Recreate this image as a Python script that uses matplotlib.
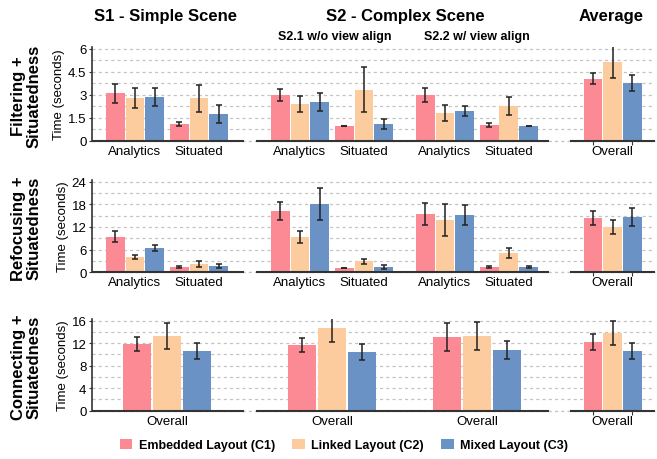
import numpy as np
import matplotlib
matplotlib.use('Agg')
import matplotlib.pyplot as plt

plt.rcParams['font.family'] = ['Liberation Sans', 'DejaVu Sans']

# 数据: 各条件均值和误差 (秒)
conditions = ['Embedded Layout (C1)', 'Linked Layout (C2)', 'Mixed Layout (C3)']
colors = ['#fc8a95', '#fdcc9e', '#6a92c4']

# 行1/行2 顺序: S1-Analytics, S1-Situated, S2.1-Analytics, S2.1-Situated, S2.2-Analytics, S2.2-Situated, Average
cat_labels_6 = ['Analytics', 'Situated', 'Analytics', 'Situated', 'Analytics', 'Situated', 'Overall']
# 行3 顺序: S1, S2.1, S2.2, Average
cat_labels_3 = ['Overall', 'Overall', 'Overall', 'Overall']

filter_c1 = [3.10, 1.09, 2.99, 0.96, 2.99, 1.03, 4.04]
filter_c2 = [2.79, 2.79, 2.40, 3.34, 1.81, 2.27, 5.15]
filter_c3 = [2.86, 1.75, 2.53, 1.09, 1.94, 0.96, 3.78]
filter_c1_err = [0.63, 0.14, 0.40, 0.02, 0.45, 0.12, 0.36]
filter_c2_err = [0.63, 0.88, 0.50, 1.48, 0.53, 0.59, 1.02]
filter_c3_err = [0.62, 0.60, 0.59, 0.30, 0.33, 0.02, 0.55]

refocus_c1 = [9.43, 1.40, 16.24, 1.14, 15.44, 1.40, 14.38]
refocus_c2 = [4.05, 2.20, 9.35, 2.99, 13.85, 5.11, 12.00]
refocus_c3 = [6.44, 1.67, 18.09, 1.40, 15.18, 1.40, 14.65]
refocus_c1_err = [1.50, 0.35, 2.40, 0.10, 3.00, 0.15, 1.95]
refocus_c2_err = [0.53, 0.70, 1.50, 0.66, 4.20, 1.24, 1.90]
refocus_c3_err = [0.90, 0.45, 4.20, 0.49, 2.55, 0.35, 2.30]

connect_c1 = [11.86, 11.68, 13.10, 12.21]
connect_c2 = [13.28, 14.70, 13.28, 13.87]
connect_c3 = [10.61, 10.44, 10.79, 10.61]
connect_c1_err = [1.30, 1.27, 2.48, 1.49]
connect_c2_err = [2.37, 2.43, 2.52, 2.13]
connect_c3_err = [1.42, 1.47, 1.57, 1.42]

row_titles = ['Filtering +\nSituatedness', 'Refocusing +\nSituatedness', 'Connecting +\nSituatedness']
y_major = [[0, 1.5, 3, 4.5, 6], [0, 6, 12, 18, 24], [0, 4, 8, 12, 16]]
y_minor_step = [0.75, 3, 2]

# 布局
W, H = 657, 460
fig = plt.figure(figsize=(W / 100, H / 100), dpi=100)

sec_centers = [3.81, 12.19, 19.55, 26.45]
sub_off = 1.625
xmax = 28.6
base_segments = [(0, 7.72), (8.33, 23.21), (24.28, xmax)]

# 像素位置 (底部0线, 顶部)
row_px = [(141.7, 48, 6.13), (273.3, 181, 24.45), (411.7, 320, 16.3)]

def px_axes(bottom, top):
    return [92 / W, 1 - bottom / H, 563 / W, (bottom - top) / H]

rows = [
    ([filter_c1, filter_c2, filter_c3], [filter_c1_err, filter_c2_err, filter_c3_err], cat_labels_6),
    ([refocus_c1, refocus_c2, refocus_c3], [refocus_c1_err, refocus_c2_err, refocus_c3_err], cat_labels_6),
    ([connect_c1, connect_c2, connect_c3], [connect_c1_err, connect_c2_err, connect_c3_err], cat_labels_3),
]

grid_style = dict(linestyle=(0, (2.5, 2.5)), color='#c4c4c4', linewidth=0.9)

handles = []
for r, (vals, errs, labels) in enumerate(rows):
    bottom, top, ytop = row_px[r]
    ax = fig.add_axes(px_axes(bottom, top))
    if len(labels) == 7:
        centers = []
        for c in sec_centers[:3]:
            centers += [c - sub_off, c + sub_off]
        centers.append(sec_centers[3])
        steps = [1.0] * 7
    else:
        centers = list(sec_centers)
        steps = [1.52, 1.52, 1.52, 1.0]
    centers = np.array(centers)
    steps = np.array(steps)
    for k in range(3):
        x = centers + (k - 1) * steps
        b = ax.bar(x, vals[k], width=steps * 0.95, color=colors[k], yerr=errs[k],
                   error_kw=dict(ecolor='#222222', elinewidth=1.1, capsize=2.5, capthick=1.1),
                   zorder=2, label=conditions[k])
        if r == 0:
            handles.append(b)
    ax.set_xlim(0, xmax)
    ax.set_ylim(0, ytop)
    ax.set_yticks(y_major[r])
    ax.set_yticklabels([('%g' % v) for v in y_major[r]])
    ax.set_yticks(np.arange(0, y_major[r][-1] + 0.01, y_minor_step[r]), minor=True)
    ax.grid(axis='y', which='both', **grid_style)
    ax.set_axisbelow(True)
    # 0线处的虚线 (各部分之间的间隙可见)
    ax.axhline(0, clip_on=False, zorder=1, **grid_style)
    ax.set_xticks(centers)
    ax.set_xticklabels(labels, fontsize=9.5)
    ax.tick_params(axis='x', length=0, pad=3)
    # 平均部分底部的小刻度
    ax.set_xticks(sec_centers[3] + np.array([-1.0, 0, 1.0]), minor=True)
    ax.tick_params(axis='x', which='minor', length=3, width=0.8, color='#333333')
    ax.tick_params(axis='y', which='major', length=2, labelsize=9.5, pad=2, color='#333333')
    ax.tick_params(axis='y', which='minor', length=0)
    for s in ['top', 'right', 'bottom']:
        ax.spines[s].set_visible(False)
    ax.spines['left'].set_color('#333333')
    ax.spines['left'].set_linewidth(1.2)
    for x0, x1 in base_segments:
        ax.hlines(0, x0, x1, color='#333333', linewidth=1.5, zorder=3, clip_on=False)
    ax.set_ylabel('Time (seconds)', fontsize=9.5, labelpad=2)
    fig.text(26 / W, 1 - (bottom + top) / 2 / H - 0.003, row_titles[r], rotation=90,
             ha='center', va='center', fontsize=12, fontweight='bold', multialignment='center',
             linespacing=1.05)

# 标题
fig.text(166 / W, 1 - 17 / H, 'S1 - Simple Scene', ha='center', va='center', fontsize=12, fontweight='bold')
fig.text(405 / W, 1 - 17 / H, 'S2 - Complex Scene', ha='center', va='center', fontsize=12, fontweight='bold')
fig.text(611 / W, 1 - 17 / H, 'Average', ha='center', va='center', fontsize=12, fontweight='bold')
fig.text(335 / W, 1 - 37 / H, 'S2.1 w/o view align', ha='center', va='center', fontsize=9, fontweight='bold')
fig.text(477 / W, 1 - 37 / H, 'S2.2 w/ view align', ha='center', va='center', fontsize=9, fontweight='bold')

fig.legend(handles=handles, labels=conditions, loc='center', bbox_to_anchor=(344 / W, 1 - 446 / H),
           ncol=3, frameon=False, handlelength=1.0, handleheight=0.8, handletextpad=0.5,
           columnspacing=1.4, prop=dict(weight='bold', size=9))

fig.savefig('out.png', dpi=100)
